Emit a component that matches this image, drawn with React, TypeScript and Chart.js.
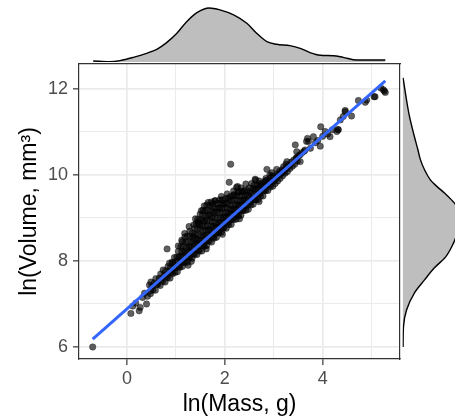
import React, { useEffect, useRef } from 'react';
import { Chart, registerables } from 'chart.js';

Chart.register(...registerables);

const W = 455;
const H = 420;
const FONT = "'Liberation Sans', Arial, Helvetica, sans-serif";

// ---- data (ln Mass, ln Volume) ----
const scatterPoints: [number, number][] = [
  [-0.70, 6.00], [0.08, 6.78], [0.12, 6.95], [0.18, 7.02], [0.25, 6.84], [0.27, 6.92], [0.32, 7.15], [0.36, 7.25],
  [0.40, 7.00], [0.42, 7.18], [0.46, 7.44], [0.48, 7.30],
  [0.48, 7.24], [0.51, 7.40], [0.49, 7.51], [0.53, 7.33], [0.56, 7.49], [0.58, 7.32], [0.61, 7.46], [0.59, 7.59],
  [0.63, 7.45], [0.66, 7.60], [0.68, 7.43], [0.71, 7.57], [0.69, 7.70], [0.73, 7.52], [0.76, 7.67], [0.74, 7.79],
  [0.78, 7.51], [0.81, 7.65], [0.79, 7.77], [0.82, 8.28], [0.83, 7.61], [0.86, 7.75], [0.84, 7.87], [0.87, 7.95],
  [0.88, 7.60], [0.91, 7.73], [0.89, 7.85], [0.92, 7.97], [0.93, 7.70], [0.96, 7.83], [0.94, 7.95], [0.97, 8.08],
  [0.98, 7.73], [1.01, 7.85], [0.99, 7.98], [1.02, 8.09], [1.03, 7.75], [1.06, 7.87], [1.04, 7.99], [1.07, 8.10],
  [1.05, 8.22], [1.08, 7.85], [1.11, 7.97], [1.09, 8.10], [1.12, 8.22], [1.10, 8.33], [1.13, 7.87], [1.16, 7.98],
  [1.14, 8.10], [1.17, 8.22], [1.15, 8.34], [1.135, 8.45], [1.18, 7.96], [1.21, 8.08], [1.19, 8.19], [1.22, 8.31],
  [1.20, 8.44], [1.185, 8.56], [1.23, 7.97], [1.26, 8.09], [1.24, 8.21], [1.27, 8.33], [1.25, 8.44], [1.235, 8.58],
  [1.28, 8.07], [1.31, 8.20], [1.29, 8.32], [1.32, 8.43], [1.30, 8.56], [1.285, 8.69], [1.315, 7.99], [1.33, 8.06],
  [1.36, 8.17], [1.34, 8.28], [1.37, 8.41], [1.35, 8.53], [1.335, 8.65], [1.365, 8.84], [1.38, 8.15], [1.41, 8.27],
  [1.39, 8.39], [1.42, 8.51], [1.40, 8.62], [1.385, 8.76], [1.415, 8.87], [1.43, 8.15], [1.46, 8.25], [1.44, 8.40],
  [1.47, 8.48], [1.45, 8.61], [1.435, 8.73], [1.465, 8.86], [1.445, 8.97], [1.48, 8.23], [1.51, 8.36], [1.49, 8.48],
  [1.52, 8.59], [1.50, 8.74], [1.485, 8.84], [1.515, 8.96], [1.495, 9.09], [1.53, 8.23], [1.56, 8.36], [1.54, 8.46],
  [1.57, 8.59], [1.55, 8.70], [1.535, 8.82], [1.565, 8.94], [1.545, 9.06], [1.555, 9.18], [1.58, 8.34], [1.61, 8.45],
  [1.59, 8.60], [1.62, 8.72], [1.60, 8.80], [1.585, 8.92], [1.615, 9.04], [1.595, 9.17], [1.63, 8.36], [1.66, 8.48],
  [1.64, 8.59], [1.67, 8.72], [1.65, 8.82], [1.635, 8.94], [1.665, 9.07], [1.645, 9.18], [1.63, 9.30], [1.68, 8.46],
  [1.71, 8.58], [1.69, 8.71], [1.72, 8.81], [1.70, 8.93], [1.685, 9.06], [1.715, 9.17], [1.695, 9.29], [1.73, 8.44],
  [1.76, 8.55], [1.74, 8.67], [1.77, 8.80], [1.75, 8.91], [1.735, 9.01], [1.765, 9.14], [1.745, 9.25], [1.755, 9.33],
  [1.78, 8.53], [1.81, 8.64], [1.79, 8.77], [1.82, 8.88], [1.80, 9.01], [1.785, 9.11], [1.815, 9.24], [1.80, 9.40],
  [1.83, 8.55], [1.86, 8.67], [1.84, 8.78], [1.87, 8.88], [1.85, 9.00], [1.835, 9.13], [1.865, 9.23], [1.845, 9.34],
  [1.88, 8.65], [1.91, 8.77], [1.89, 8.89], [1.92, 9.00], [1.90, 9.12], [1.885, 9.23], [1.915, 9.35], [1.895, 9.42],
  [1.93, 8.67], [1.96, 8.76], [1.94, 8.89], [1.97, 9.01], [1.95, 9.12], [1.935, 9.22], [1.965, 9.32], [1.945, 9.42],
  [1.98, 8.77], [2.01, 8.89], [1.99, 9.01], [2.02, 9.12], [2.00, 9.24], [1.985, 9.33], [2.015, 9.45], [2.03, 8.76],
  [2.06, 8.89], [2.04, 9.01], [2.07, 9.12], [2.05, 9.23], [2.035, 9.34], [2.065, 9.46], [2.08, 8.84], [2.11, 8.96],
  [2.09, 9.08], [2.12, 9.19], [2.10, 9.30], [2.085, 9.42], [2.115, 9.50], [2.13, 8.85], [2.16, 8.98], [2.14, 9.09],
  [2.17, 9.19], [2.15, 9.30], [2.135, 9.41], [2.165, 9.52], [2.18, 8.96], [2.21, 9.08], [2.19, 9.20], [2.22, 9.31],
  [2.20, 9.43], [2.185, 9.54], [2.23, 8.97], [2.26, 9.07], [2.24, 9.18], [2.27, 9.30], [2.25, 9.41], [2.235, 9.52],
  [2.265, 9.60], [2.28, 9.05], [2.31, 9.17], [2.29, 9.29], [2.32, 9.40], [2.30, 9.51], [2.285, 9.61], [2.33, 9.06],
  [2.36, 9.18], [2.34, 9.30], [2.37, 9.41], [2.35, 9.52], [2.335, 9.62], [2.38, 9.17], [2.41, 9.29], [2.39, 9.42],
  [2.42, 9.53], [2.40, 9.64], [2.43, 9.18], [2.46, 9.29], [2.44, 9.41], [2.47, 9.53], [2.45, 9.64], [2.48, 9.20],
  [2.51, 9.36], [2.49, 9.49], [2.52, 9.61], [2.50, 9.70], [2.53, 9.30], [2.56, 9.43], [2.54, 9.56], [2.57, 9.68],
  [2.58, 9.32], [2.61, 9.43], [2.59, 9.55], [2.62, 9.67], [2.60, 9.76], [2.63, 9.42], [2.66, 9.56], [2.64, 9.68],
  [2.67, 9.76], [2.68, 9.43], [2.71, 9.56], [2.69, 9.68], [2.72, 9.78], [2.73, 9.51], [2.76, 9.64], [2.74, 9.76],
  [2.78, 9.51], [2.81, 9.64], [2.79, 9.77], [2.82, 9.85], [2.83, 9.63], [2.86, 9.77], [2.84, 9.87], [2.88, 9.64],
  [2.91, 9.77], [2.89, 9.88], [2.93, 9.72], [2.96, 9.85], [2.94, 9.95], [2.98, 9.74], [3.01, 9.87], [2.99, 9.98],
  [3.03, 9.80], [3.06, 9.95], [3.07, 10.02], [3.08, 9.86], [3.11, 10.00], [3.12, 10.08], [3.13, 9.92], [3.16, 10.05],
  [3.17, 10.12], [3.18, 9.98], [3.21, 10.10], [3.20, 10.19], [3.23, 10.04], [3.26, 10.16], [3.25, 10.25], [3.28, 10.08],
  [3.31, 10.22], [3.33, 10.15], [3.36, 10.30], [3.38, 10.20], [3.41, 10.35], [3.43, 10.25], [3.46, 10.40], [3.48, 10.32],
  [3.51, 10.45],
  [2.09, 9.83], [2.12, 10.25], [2.24, 9.71], [2.26, 9.73], [2.43, 9.79], [2.38, 9.61], [2.62, 9.90], [2.63, 9.88],
  [2.75, 9.81], [2.84, 9.92], [2.86, 10.13], [2.96, 10.05], [3.06, 10.13], [3.27, 10.31], [3.44, 10.70], [3.47, 10.54],
  [3.47, 10.39], [1.46, 8.91], [1.36, 8.57], [1.80, 9.40],
  [1.05, 8.35], [1.18, 8.64], [1.27, 8.80], [1.52, 9.17], [1.58, 9.28], [1.72, 9.37], [1.93, 9.50], [2.05, 9.56],
  [2.18, 9.63], [2.33, 9.70], [2.55, 9.80], [2.70, 9.86], [2.92, 10.00], [1.25, 7.90], [1.62, 8.28], [1.95, 8.62],
  [2.30, 8.98], [2.70, 9.38], [1.12, 8.48], [1.40, 8.98], [1.66, 9.36],
  [3.54, 10.31], [3.54, 10.47], [3.58, 10.52], [3.62, 10.55], [3.64, 10.58], [3.67, 10.78], [3.69, 10.85], [3.71, 10.78],
  [3.75, 10.62], [3.81, 10.89], [3.85, 10.75], [3.90, 10.80], [3.95, 10.67], [3.96, 11.12], [4.00, 10.90], [4.05, 11.01],
  [4.10, 10.95], [4.15, 10.89], [4.20, 11.05], [4.29, 11.01], [4.31, 11.06], [4.32, 11.05], [4.36, 11.28], [4.42, 11.36],
  [4.46, 11.50], [4.46, 11.47], [4.59, 11.37], [4.73, 11.73], [4.87, 11.69], [4.90, 11.74], [5.05, 11.82], [5.07, 11.82],
  [5.19, 12.02], [5.24, 11.98], [5.28, 11.92], [5.26, 11.95],
];

// linear fit end points
const fitMass = [-0.70, 5.28];
const fitVolume = [6.18, 12.19];

// axis ticks / limits
const xTickLabels = [0, 2, 4];
const yTickLabels = [6, 8, 10, 12];
const xLimits = [-0.98, 5.58];
const yLimits = [5.72, 12.58];

// marginal density of ln(Mass)
const massDensityX = [-0.69, -0.35, -0.14, 0.13, 0.40, 0.61, 0.81, 1.02, 1.22, 1.43, 1.68, 1.90, 2.18, 2.45, 2.65,
  2.86, 3.06, 3.33, 3.54, 3.74, 3.95, 4.22, 4.42, 4.70, 4.90, 5.28];
const massDensity = [0.007, 0.002, 0.010, 0.033, 0.062, 0.091, 0.139, 0.206, 0.289, 0.354, 0.387, 0.373, 0.337, 0.277,
  0.206, 0.146, 0.127, 0.117, 0.098, 0.067, 0.048, 0.045, 0.033, 0.014, 0.014, 0.014];

// marginal density of ln(Volume)
const volumeDensityY = [6.00, 6.47, 6.86, 7.26, 7.56, 7.84, 8.09, 8.37, 8.60, 8.84, 9.07, 9.28, 9.42, 9.58, 9.74,
  9.88, 10.12, 10.35, 10.58, 10.97, 11.36, 11.74, 12.05, 12.26];
const volumeDensity = [0.004, 0.007, 0.029, 0.086, 0.158, 0.229, 0.308, 0.359, 0.387, 0.402, 0.402, 0.387, 0.351,
  0.301, 0.244, 0.201, 0.158, 0.129, 0.111, 0.079, 0.050, 0.029, 0.014, 0.004];

const GRID = '#EBEBEB';
const DARK = '#333333';
const TICK_TEXT = '#4D4D4D';

const isMajor = (v: number, list: number[]) =>
  Math.abs(v - Math.round(v)) < 1e-6 && list.includes(Math.round(v));

export default function App() {
  const mainRef = useRef<HTMLCanvasElement>(null);
  const topRef = useRef<HTMLCanvasElement>(null);
  const rightRef = useRef<HTMLCanvasElement>(null);

  useEffect(() => {
    const charts: Chart[] = [];
    const noPlugins = { legend: { display: false }, tooltip: { enabled: false } };

    const axisOpts = (list: number[], limits: number[], title: string, size: number, titlePad: any, tickPad: number) => ({
      type: 'linear',
      min: limits[0],
      max: limits[1],
      afterFit: (s: any) => {
        if (s.isHorizontal()) s.height = size; else s.width = size;
      },
      ticks: {
        stepSize: 1,
        includeBounds: false,
        autoSkip: false,
        maxRotation: 0,
        padding: tickPad,
        color: TICK_TEXT,
        font: { family: FONT, size: 18 },
        callback: (v: number) => (isMajor(v, list) ? String(Math.round(v)) : ''),
      },
      grid: {
        color: GRID,
        lineWidth: (ctx: any) => (ctx.tick && isMajor(ctx.tick.value, list) ? 1.7 : 1),
        drawTicks: true,
        tickLength: 6,
        tickWidth: 1.2,
        tickColor: (ctx: any) => (ctx.tick && isMajor(ctx.tick.value, list) ? DARK : 'rgba(0,0,0,0)'),
      },
      border: { display: true, color: DARK, width: 1.2 },
      title: { display: true, text: title, color: '#000', font: { family: FONT, size: 23 }, padding: titlePad },
    });

    const frameAxis = (pos: string, limits: number[]) => ({
      type: 'linear',
      position: pos,
      min: limits[0],
      max: limits[1],
      afterFit: (s: any) => {
        if (s.isHorizontal()) s.height = 0; else s.width = 0;
      },
      ticks: { display: false },
      grid: { display: false, drawTicks: false },
      border: { display: true, color: DARK, width: 1.2 },
    });

    if (mainRef.current) {
      charts.push(new Chart(mainRef.current, {
        type: 'scatter',
        data: {
          datasets: [
            {
              type: 'line',
              data: fitMass.map((x, i) => ({ x, y: fitVolume[i] })),
              borderColor: '#3366FF',
              borderWidth: 3,
              pointRadius: 0,
              showLine: true,
              fill: false,
              order: 1,
            } as any,
            {
              type: 'scatter',
              data: scatterPoints.map(([x, y]) => ({ x, y })),
              pointRadius: 3.2,
              pointBackgroundColor: 'rgba(0,0,0,0.62)',
              pointBorderColor: 'rgba(0,0,0,0.45)',
              pointBorderWidth: 0.8,
              order: 2,
            } as any,
          ],
        },
        options: {
          responsive: false,
          animation: false,
          events: [],
          layout: { padding: { left: 0, right: 55, top: 64, bottom: 0 } },
          plugins: noPlugins as any,
          scales: {
            x: { ...axisOpts(xTickLabels, xLimits, 'ln(Mass, g)', 61, { top: 0, bottom: 2 }, 3), position: 'bottom' } as any,
            y: { ...axisOpts(yTickLabels, yLimits, 'ln(Volume, mm\u00B3)', 79, { top: 16, bottom: 0 }, 5), position: 'left' } as any,
            x2: frameAxis('top', xLimits) as any,
            y2: frameAxis('right', yLimits) as any,
          },
        },
      }));
    }

    if (topRef.current) {
      charts.push(new Chart(topRef.current, {
        type: 'line',
        data: {
          datasets: [{
            data: massDensityX.map((x, i) => ({ x, y: massDensity[i] })),
            borderColor: '#000000',
            borderWidth: 1.4,
            backgroundColor: '#BEBEBE',
            fill: 'origin',
            pointRadius: 0,
            cubicInterpolationMode: 'monotone',
          } as any],
        },
        options: {
          responsive: false,
          animation: false,
          events: [],
          layout: { padding: { left: 79, right: 55, top: 0, bottom: 358 } },
          plugins: noPlugins as any,
          scales: {
            x: { type: 'linear', display: false, min: xLimits[0], max: xLimits[1] },
            y: { type: 'linear', display: false, min: 0, max: 0.444 },
          },
        },
      }));
    }

    if (rightRef.current) {
      charts.push(new Chart(rightRef.current, {
        type: 'line',
        data: {
          datasets: [{
            data: volumeDensityY.map((y, i) => ({ x: volumeDensity[i], y })),
            borderColor: '#000000',
            borderWidth: 1.4,
            backgroundColor: '#BEBEBE',
            fill: 'origin',
            pointRadius: 0,
            cubicInterpolationMode: 'monotone',
          } as any],
        },
        options: {
          indexAxis: 'y',
          responsive: false,
          animation: false,
          events: [],
          layout: { padding: { left: 402.5, right: 0, top: 64, bottom: 61 } },
          plugins: noPlugins as any,
          scales: {
            x: { type: 'linear', display: false, min: 0, max: 0.3764 },
            y: { type: 'linear', display: false, min: yLimits[0], max: yLimits[1] },
          },
        } as any,
      }));
    }

    return () => charts.forEach((c) => c.destroy());
  }, []);

  const cv: React.CSSProperties = { position: 'absolute', left: 0, top: 0, width: W, height: H };
  return (
    <div style={{ position: 'fixed', left: 0, top: 0, width: W, height: H, background: '#ffffff', overflow: 'hidden' }}>
      <canvas ref={mainRef} width={W} height={H} style={cv} />
      <canvas ref={topRef} width={W} height={H} style={cv} />
      <canvas ref={rightRef} width={W} height={H} style={cv} />
    </div>
  );
}
